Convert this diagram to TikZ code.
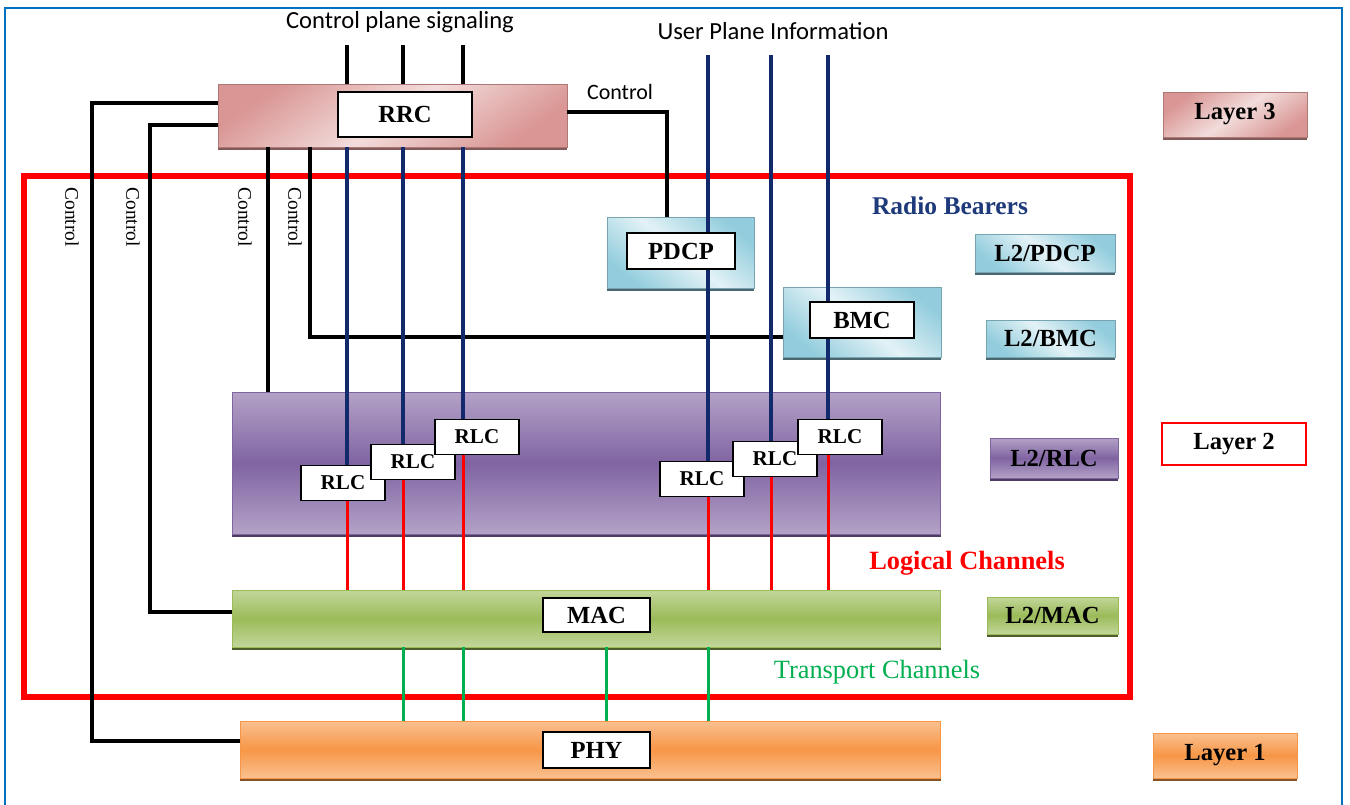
\documentclass[tikz,border=0pt]{standalone}
\usepackage{fontspec}
\setmainfont{Liberation Serif}
\newfontfamily\calfont{Carlito}
\usetikzlibrary{positioning,shadows}
\definecolor{rsFrame}{HTML}{0070C0}
\definecolor{rsRed}{HTML}{FF0000}
\definecolor{rsNavy}{HTML}{122A6B}
\definecolor{rsGreen}{HTML}{00B050}
\definecolor{rsTitle}{HTML}{1F3A7A}
\definecolor{rsPinkLight}{HTML}{F2DCDB}
\definecolor{rsPinkDark}{HTML}{D99694}
\definecolor{rsBlueLight}{HTML}{E3F2F6}
\definecolor{rsBlueDark}{HTML}{93CDDD}
\definecolor{rsPurpleLight}{HTML}{B3A2C7}
\definecolor{rsPurpleDark}{HTML}{8064A2}
\definecolor{rsGreenLight}{HTML}{C3D69B}
\definecolor{rsGreenDark}{HTML}{9BBB59}
\definecolor{rsOrangeLight}{HTML}{FAC090}
\definecolor{rsOrangeDark}{HTML}{F79646}
\tikzset{
  rs shadow/.style={general shadow={shadow yshift=-1.6pt, fill=#1}},
  rs pink/.style={
    top color=rsPinkDark, bottom color=rsPinkDark, middle color=rsPinkLight,
    shading angle=35, draw=rsPinkDark!80!black, line width=.4pt,
    rs shadow=rsPinkDark!60!black
  },
  rs blue/.style={
    top color=rsBlueDark, bottom color=rsBlueDark, middle color=rsBlueLight,
    shading angle=-40, draw=rsBlueDark!80!black, line width=.4pt,
    rs shadow=rsBlueDark!50!black
  },
  rs purple/.style={
    top color=rsPurpleLight, bottom color=rsPurpleLight, middle color=rsPurpleDark,
    draw=rsPurpleDark, line width=.5pt, rs shadow=rsPurpleDark!60!black
  },
  rs olive/.style={
    top color=rsGreenLight, bottom color=rsGreenLight, middle color=rsGreenDark,
    draw=rsGreenDark, line width=.5pt, rs shadow=rsGreenDark!50!black
  },
  rs orange/.style={
    top color=rsOrangeLight, bottom color=rsOrangeLight, middle color=rsOrangeDark,
    draw=rsOrangeDark, line width=.5pt, rs shadow=rsOrangeDark!55!black
  },
  rs inner/.style={draw=black, fill=white, line width=.6pt, inner sep=0pt,
    font=\fontsize{14}{16}\selectfont\bfseries},
  rs rlc/.style={rs inner, minimum width=1.68cm, minimum height=.7cm,
    font=\fontsize{12}{14}\selectfont\bfseries},
  rs tag/.style={inner sep=0pt, font=\fontsize{14}{16}\selectfont\bfseries},
  rs ctrl/.style={draw=black, line width=.75mm},
  rs user/.style={draw=rsNavy, line width=.65mm},
  rs logical/.style={draw=rsRed, line width=.6mm},
  rs transport/.style={draw=rsGreen, line width=.6mm},
  rs sideways/.style={rotate=-90, font=\fontsize{11}{13}\selectfont},
  rs cal/.style={font=\calfont\fontsize{14}{16}\selectfont}
}

\begin{document}
\begin{tikzpicture}[x=.02cm,y=-.02cm]
  \useasboundingbox (0,0) rectangle (1350,805);
  \fill[white] (0,0) rectangle (1350,805);
  \draw[rsFrame, line width=1.1pt] (5,812) |- (1342,8) -- (1342,812);

  % layer 2 frame
  \draw[rsRed, line width=1.2mm] (24,176) rectangle (1130,697);

  % bands
  \node[rs pink, minimum width=6.98cm, minimum height=1.26cm] (rrc) at (392.5,115.5) {};
  \node[rs blue, minimum width=2.94cm, minimum height=1.42cm] (pdcp) at (680.5,252.5) {};
  \node[rs blue, minimum width=3.16cm, minimum height=1.4cm] (bmc) at (862,322) {};
  \node[rs purple, minimum width=14.18cm, minimum height=2.84cm] (rlcband) at (586.5,463) {};
  \node[rs olive, minimum width=14.18cm, minimum height=1.14cm] (mac) at (586.5,618.5) {};
  \node[rs orange, minimum width=14.02cm, minimum height=1.14cm] (phy) at (590.5,749.5) {};

  % rlc entities
  \node[rs rlc] (rlc1) at (343,483) {RLC};
  \node[rs rlc] (rlc2) at (413,462) {RLC};
  \node[rs rlc] (rlc3) at (477,437) {RLC};
  \node[rs rlc] (rlc4) at (702,479) {RLC};
  \node[rs rlc] (rlc5) at (775,459) {RLC};
  \node[rs rlc] (rlc6) at (840,437) {RLC};

  \coordinate (cp1) at (347,45);
  \coordinate (cp2) at (403,45);
  \coordinate (cp3) at (463,45);
  \coordinate (cp4) at (708,55);
  \coordinate (cp5) at (771,55);
  \coordinate (cp6) at (828,55);
  \coordinate (ca) at (92,400);
  \coordinate (cb) at (150,400);
  \coordinate (cc) at (268,300);
  \coordinate (cd) at (310,300);
  \foreach \x [count=\i] in {403,463,606,708}
    \coordinate (tc\i) at (\x,680);

  % control lines
  \foreach \i in {1,2,3}
    \draw[rs ctrl] (cp\i) -- (cp\i |- rrc.north);
  \draw[rs ctrl] ([yshift=.25cm]rrc.west) -| (ca) |- ([yshift=.17cm]phy.west);
  \draw[rs ctrl] ([yshift=-.19cm]rrc.west) -| (cb) |- ([yshift=.13cm]mac.west);
  \draw[rs ctrl] (cc |- rrc.south) -- (cc |- rlcband.north);
  \draw[rs ctrl] (cd |- rrc.south) |- ([yshift=-.3cm]bmc.west);
  \draw[rs ctrl] ([yshift=.07cm]rrc.east) -| ([xshift=-.27cm]pdcp.north);

  % user plane / logical / transport
  \foreach \i in {1,2,3} {
    \draw[rs user] (cp\i |- rrc.south) -- (cp\i |- rlc\i.north);
    \draw[rs logical] (cp\i |- rlc\i.south) -- (cp\i |- mac.north);
  }
  \foreach \i in {4,5,6} {
    \draw[rs user] (cp\i) -- (cp\i |- rlc\i.north);
    \draw[rs logical] (cp\i |- rlc\i.south) -- (cp\i |- mac.north);
  }
  \foreach \i in {1,...,4}
    \draw[rs transport] (tc\i |- mac.south) -- (tc\i |- phy.north);

  % inner labels
  \node[rs inner, minimum width=2.68cm, minimum height=.9cm] (rrcbox) at (405,114.5) {RRC};
  \node[rs inner, minimum width=2.16cm, minimum height=.72cm] (pdcpbox) at (681,251) {PDCP};
  \node[rs inner, minimum width=2.08cm, minimum height=.72cm] (bmcbox) at (862,320) {BMC};
  \node[rs inner, minimum width=2.14cm, minimum height=.68cm] (macbox) at (596.5,615) {MAC};
  \node[rs inner, minimum width=2.14cm, minimum height=.72cm] (phybox) at (596.5,750) {PHY};

  % layer tags
  \node[rs pink, rs tag, minimum width=2.88cm, minimum height=.9cm] (layer3) at (1235,114.5) {Layer 3};
  \node[rs tag, draw=rsRed, fill=white, line width=.55mm, minimum width=2.88cm,
    minimum height=.84cm] (layer2) at (1234,444) {Layer 2};
  \node[rs orange, rs tag, minimum width=2.88cm, minimum height=.9cm] (layer1) at (1225,755.5) {Layer 1};
  \node[rs blue, rs tag, minimum width=2.8cm, minimum height=.76cm] (l2pdcp) at (1045,253) {L2/PDCP};
  \node[rs blue, rs tag, minimum width=2.58cm, minimum height=.74cm] (l2bmc) at (1050.5,338.5) {L2/BMC};
  \node[rs purple, rs tag, minimum width=2.56cm, minimum height=.8cm] (l2rlc) at (1054,458) {L2/RLC};
  \node[rs olive, rs tag, minimum width=2.62cm, minimum height=.74cm] (l2mac) at (1052.5,615.5) {L2/MAC};

  % texts
  \node[rs cal] (cpsig) at (400,22) {Control plane signaling};
  \node[rs cal] (upinfo) at (773,31) {User Plane Information};
  \node[font=\calfont\fontsize{12.5}{14}\selectfont] (ctrltop) at (620,92) {Control};
  \foreach \x [count=\i] in {72,133,245,295}
    \node[rs sideways] (ctrlside\i) at (\x,217) {Control};
  \node[font=\fontsize{14.5}{16}\selectfont\bfseries, text=rsTitle] (bearers) at (950,206) {Radio Bearers};
  \node[font=\fontsize{15}{17}\selectfont\bfseries, text=rsRed] (logical) at (967,563) {Logical Channels};
  \node[font=\fontsize{15}{17}\selectfont, text=rsGreen] (transport) at (877,672) {Transport Channels};
\end{tikzpicture}
\end{document}
